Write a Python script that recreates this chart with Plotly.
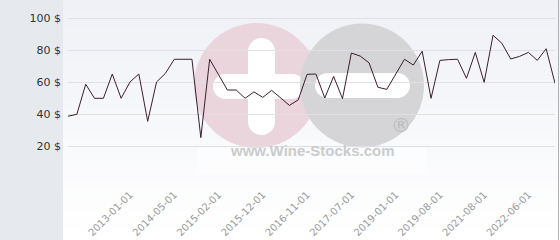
import plotly.graph_objects as go

# ---- data ----
prices = [38.6, 39.8, 58.6, 49.8, 49.8, 65.0, 49.8, 60.0, 65.0, 35.4,
          60.0, 65.4, 74.2, 74.2, 74.2, 25.2, 74.2, 64.6, 55.0, 55.0,
          49.8, 53.8, 50.4, 54.8, 50.0, 45.4, 48.8, 64.8, 65.0, 50.0,
          63.5, 49.6, 78.1, 76.2, 72.0, 56.7, 55.4, 64.8, 74.2, 70.6,
          79.2, 49.8, 73.5, 74.0, 74.2, 62.3, 78.5, 59.8, 89.2, 84.2,
          74.4, 76.0, 78.5, 73.5, 80.8, 59.2]
tick_positions = [7, 12, 17, 22, 27, 32, 37, 42, 47, 52]
tick_labels = ["2013-01-01", "2014-05-01", "2015-02-01", "2015-12-01", "2016-11-01",
               "2017-07-01", "2019-01-01", "2019-08-01", "2021-08-01", "2022-06-01"]
y_ticks = [0, 20, 40, 60, 80, 100]
y_tick_text = ["", "20 $", "40 $", "60 $", "80 $", "100 $"]

W, H = 560, 240
L, R, T, B = 68, 5, 0, 62
PW = W - L - R
PH = H - T - B


def px(x):
    return (x - L) / PW


def py(y):
    return (T + PH - y) / PH


shapes = []
# gradient background of the chart area
n = 24
for i in range(n):
    y0 = i * H / n
    y1 = (i + 1) * H / n
    f = i / (n - 1)
    r = round(239 + (255 - 239) * f)
    g = round(241 + (255 - 241) * f)
    b = round(246 + (255 - 246) * f)
    shapes.append(dict(type="rect", xref="paper", yref="paper", layer="below",
                       x0=px(63), x1=px(W), y0=py(y1), y1=py(y0),
                       fillcolor=f"rgb({r},{g},{b})", line_width=0))
# left grey panel
shapes.append(dict(type="rect", xref="paper", yref="paper", layer="below",
                   x0=px(0), x1=px(63), y0=py(H), y1=py(0),
                   fillcolor="#e6eaee", line_width=0))
# right border
shapes.append(dict(type="line", xref="paper", yref="paper", layer="above",
                   x0=px(558.5), x1=px(558.5), y0=py(H), y1=py(0),
                   line=dict(color="#b0b0b0", width=1)))


def circle(cx, cy, r, color):
    return dict(type="circle", xref="paper", yref="paper", layer="below",
                x0=px(cx - r), x1=px(cx + r), y0=py(cy + r), y1=py(cy - r),
                fillcolor=color, line_width=0)


def rect(x0, y0, x1, y1, color):
    return dict(type="rect", xref="paper", yref="paper", layer="below",
                x0=px(x0), x1=px(x1), y0=py(y1), y1=py(y0),
                fillcolor=color, line_width=0)


def hbar(x0, x1, yc, h, color):
    r = h / 2
    return [rect(x0 + r, yc - r, x1 - r, yc + r, color),
            circle(x0 + r, yc, r, color), circle(x1 - r, yc, r, color)]


def vbar(xc, y0, y1, w, color):
    r = w / 2
    return [rect(xc - r, y0 + r, xc + r, y1 - r, color),
            circle(xc, y0 + r, r, color), circle(xc, y1 - r, r, color)]


# watermark
shapes.append(circle(256.5, 85.5, 62.5, "#ead5dc"))
shapes += vbar(261.5, 38, 135, 27, "#ffffff")
shapes += hbar(213, 305, 86.5, 25, "#ffffff")
shapes.append(circle(362, 85.5, 62, "#d5d5d7"))
shapes += hbar(315, 410, 85.5, 25, "#ffffff")
shapes.append(rect(197, 148, 427, 174, "rgba(255,255,255,0.5)"))

fig = go.Figure()
fig.add_trace(go.Scatter(x=list(range(len(prices))), y=prices, mode="lines",
                         line=dict(color="#3b1f2e", width=1), hoverinfo="skip"))

fig.update_layout(
    width=W, height=H,
    margin=dict(l=L, r=R, t=T, b=B, pad=0),
    paper_bgcolor="white",
    plot_bgcolor="rgba(0,0,0,0)",
    showlegend=False,
    shapes=shapes,
    annotations=[
        dict(text="www.Wine-Stocks.com", xref="paper", yref="paper",
             x=px(312), y=py(161), showarrow=False,
             font=dict(family="Liberation Sans", size=15, color="#cbcbcb", weight="bold")),
        dict(text="®", xref="paper", yref="paper", x=px(413), y=py(139),
             showarrow=False, font=dict(family="DejaVu Sans", size=20, color="#bdbdbd")),
    ],
    xaxis=dict(range=[0, len(prices) - 1], showgrid=False, zeroline=False,
               tickmode="array", tickvals=tick_positions, ticktext=tick_labels,
               tickangle=-45, ticks="", showline=False, ticklabelstandoff=8,
               tickfont=dict(family="DejaVu Sans", size=10, color="#9a9a9a")),
    yaxis=dict(range=[0, PH / 1.6], showgrid=True, gridcolor="#dfe0e6", gridwidth=1,
               zeroline=False, tickmode="array", tickvals=y_ticks, ticktext=y_tick_text,
               ticks="", showline=False, ticklabelstandoff=6,
               tickfont=dict(family="DejaVu Sans", size=11, color="#333333")),
)

fig.write_html("out.html")
